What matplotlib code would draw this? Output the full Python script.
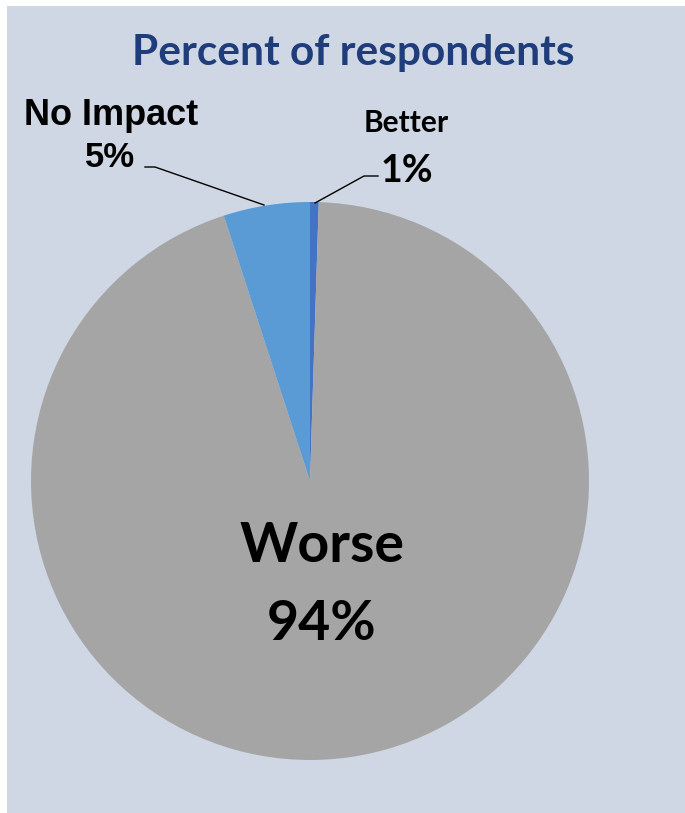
import matplotlib.pyplot as plt
from matplotlib.patches import Rectangle

# Data
labels = ["Better", "Worse", "No Impact"]
shares = [0.5, 94.5, 5.0]
pct_labels = ["1%", "94%", "5%"]
colors = ["#4472C4", "#A5A5A5", "#5B9BD5"]

W, H = 685, 813
fig = plt.figure(figsize=(W / 100, H / 100), dpi=100)
fig.patch.set_facecolor("white")
ax = fig.add_axes([0, 0, 1, 1])

# Panel background
ax.add_patch(Rectangle((7, 0), W - 7, H - 6, facecolor="#CFD7E4", edgecolor="none", zorder=0))

# Pie
cx, cy, r = 310, H - 481, 279
ax.pie(shares, colors=colors, startangle=90, counterclock=False,
       center=(cx, cy), radius=r, frame=True,
       wedgeprops=dict(linewidth=0))
ax.set_xlim(0, W)
ax.set_ylim(0, H)
ax.set_aspect("equal")
ax.axis("off")

# Title
ax.text(353, H - 65, "Percent of respondents", ha="center", va="baseline",
        fontsize=30.5, fontweight="bold", color="#1F3D7A", family="Lato")

# Worse label inside
ax.text(322, H - 562, labels[1], ha="center", va="baseline", fontsize=40,
        fontweight="bold", color="black", family="Lato")
ax.text(322, H - 640, pct_labels[1], ha="center", va="baseline", fontsize=40,
        fontweight="bold", color="black", family="Lato")

# Outside labels
arial = ["Liberation Sans", "DejaVu Sans"]
ax.text(111, H - 125, labels[2], ha="center", va="baseline", fontsize=26,
        fontweight="bold", family=arial)
ax.text(110, H - 167, pct_labels[2], ha="center", va="baseline", fontsize=25,
        fontweight="bold", family=arial)
ax.text(406, H - 132, labels[0], ha="center", va="baseline", fontsize=21.5,
        fontweight="bold", family="Lato")
ax.text(407, H - 182, pct_labels[0], ha="center", va="baseline", fontsize=27,
        fontweight="bold", family="Lato")

# Leader lines
ax.plot([145, 155, 264], [H - 167, H - 167, H - 205], color="black", lw=1, zorder=5)
ax.plot([378, 364, 315], [H - 176, H - 176, H - 203], color="black", lw=1, zorder=5)

fig.savefig("out.png", dpi=100, facecolor=fig.get_facecolor())
